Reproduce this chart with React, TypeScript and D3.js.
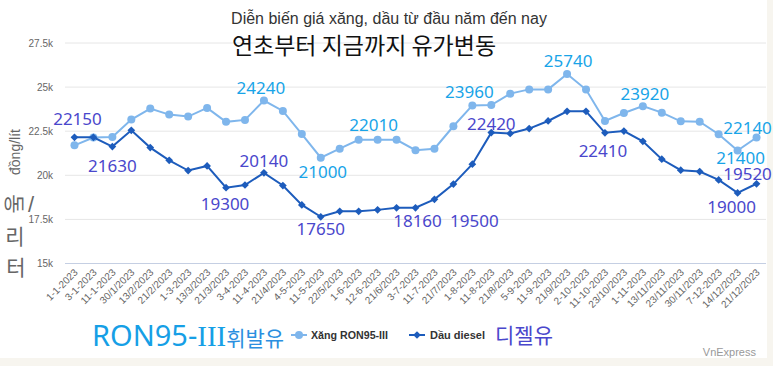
import React from 'react';
import * as d3 from 'd3';

const W = 773;
const H = 366;

// Ngày điều chỉnh giá
const dates = [
  '1-1-2023', '3-1-2023', '11-1-2023', '30/1/2023', '13/2/2023', '21/2/2023', '1-3-2023',
  '13/3/2023', '21/3/2023', '3-4-2023', '11-4-2023', '21/4/2023', '4-5-2023', '11-5-2023',
  '22/5/2023', '1-6-2023', '12-6-2023', '21/6/2023', '3-7-2023', '11-7-2023', '21/7/2023',
  '1-8-2023', '11-8-2023', '21/8/2023', '5-9-2023', '11-9-2023', '21/9/2023', '2-10-2023',
  '11-10-2023', '23/10/2023', '1-11-2023', '13/11/2023', '23/11/2023', '30/11/2023',
  '7-12-2023', '14/12/2023', '21/12/2023',
];

// Xăng RON95-III (đồng/lít)
const petrol = [
  21700, 22140, 22170, 23160, 23780, 23440, 23330, 23820, 23030, 23140, 24240, 23650, 22340,
  21000, 21510, 22010, 22010, 22010, 21420, 21510, 22780, 23960, 23980, 24630, 24870, 24870,
  25740, 24860, 23080, 23530, 23920, 23550, 23060, 23040, 22330, 21400, 22140,
];

// Dầu diesel (đồng/lít)
const diesel = [
  22150, 22150, 21630, 22550, 21570, 20850, 20270, 20530, 19300, 19450, 20140, 19420, 18320,
  17650, 17960, 17960, 18040, 18160, 18160, 18640, 19500, 20630, 22420, 22370, 22650, 23080,
  23630, 23630, 22410, 22510, 21930, 20910, 20290, 20210, 19740, 19000, 19520,
];

const yTicks = [15000, 17500, 20000, 22500, 25000, 27500];

// which points carry a value label
const petrolLabelIdx = [10, 13, 16, 21, 26, 30, 35, 36];
const dieselLabelIdx = [0, 2, 8, 10, 13, 18, 20, 22, 28, 35, 36];

// label placement relative to the point: [dx, dy to baseline]
const petrolOffset: Record<number, [number, number]> = {
  10: [-3, -7], 13: [2, 20], 16: [-4, -9], 21: [-3, -7], 26: [1, -7], 30: [2, -6], 35: [3, 13], 36: [-9, -4],
};
const dieselOffset: Record<number, [number, number]> = {
  0: [3, -12], 2: [0, 25], 8: [-1, 22], 10: [0, -6], 13: [0, 18], 18: [2, 19], 20: [21, 43],
  22: [0, -3], 28: [-2, 24], 35: [-6, 20], 36: [-9, -4],
};

const PETROL = '#7fb6ec';
const DIESEL = '#1d5cbc';
const PETROL_LBL = '#18a4e8';
const DIESEL_LBL = '#4a47cc';
const SANS = '"Liberation Sans", Arial, sans-serif';
const LBL_FONT = '"Noto Sans", "DejaVu Sans", sans-serif';
const KR = '"Noto Sans CJK KR", sans-serif';

const fmtK = (v: number) => `${v / 1000}k`;

export default function App() {
  const x = d3.scalePoint<string>().domain(dates).range([65, 766]).padding(0.5);
  const y = d3.scaleLinear().domain([15000, 27500]).range([263.5, 43]);
  const xi = (i: number) => x(dates[i]) as number;

  const line = d3.line<number>().x((_, i) => xi(i)).y(d => y(d));
  const square = d3.symbol(d3.symbolSquare, 30)() as string;

  return (
    <svg width={W} height={H} style={{ position: 'absolute', left: 0, top: 0 }}>
      <rect width={W} height={H} fill="#f7f5ef" />
      <rect x={0} y={0} width={767} height={358} fill="#ffffff" />

      {/* titles */}
      <text x={389} y={24} textAnchor="middle" fontFamily={SANS} fontSize={16} fill="#333">
        Diễn biến giá xăng, dầu từ đầu năm đến nay
      </text>

      {/* grid */}
      {yTicks.map(t => (
        <g key={t}>
          <line x1={65} x2={766} y1={y(t)} y2={y(t)} stroke={t === 15000 ? '#c5cfe3' : '#e6e6e6'} />
          <text x={53} y={y(t) + 3.5} textAnchor="end" fontFamily={SANS} fontSize={10} fill="#666">
            {fmtK(t)}
          </text>
        </g>
      ))}

      <text x={364} y={54} textAnchor="middle" fontFamily={KR} fontSize={23} fill="#111">
        연초부터 지금까지 유가변동
      </text>

      {/* y axis title */}
      <text transform="translate(20,152) rotate(-90)" textAnchor="middle" fontFamily={SANS} fontSize={14} fill="#666">
        đồng/lít
      </text>
      <text transform="translate(16,204) rotate(90)" textAnchor="middle" dominantBaseline="central" fontFamily={KR} fontSize={21} fill="#666">
        동
      </text>
      <text x={31} y={212} textAnchor="middle" fontFamily={SANS} fontSize={22} fill="#666">/</text>
      <text x={15} y={244} textAnchor="middle" fontFamily={KR} fontSize={21} fill="#666">리</text>
      <text x={16} y={275} textAnchor="middle" fontFamily={KR} fontSize={21} fill="#666">터</text>

      {/* x labels */}
      {dates.map((d, i) => (
        <text key={d} transform={`translate(${xi(i) + 4},273) rotate(-45)`} textAnchor="end"
          fontFamily={SANS} fontSize={10} fill="#666">
          {d}
        </text>
      ))}

      {/* series */}
      <path d={line(petrol) as string} fill="none" stroke={PETROL} strokeWidth={2} />
      {petrol.map((v, i) => (
        <circle key={i} cx={xi(i)} cy={y(v)} r={4} fill={PETROL} />
      ))}
      <path d={line(diesel) as string} fill="none" stroke={DIESEL} strokeWidth={2} />
      {diesel.map((v, i) => (
        <path key={i} d={square} transform={`translate(${xi(i)},${y(v)}) rotate(45)`} fill={DIESEL} />
      ))}

      {/* value labels */}
      {petrolLabelIdx.map(i => (
        <text key={'p' + i} x={xi(i) + petrolOffset[i][0]} y={y(petrol[i]) + petrolOffset[i][1]}
          textAnchor="middle" fontFamily={LBL_FONT} fontSize={17} fill={PETROL_LBL}>
          {petrol[i]}
        </text>
      ))}
      {dieselLabelIdx.map(i => (
        <text key={'d' + i} x={xi(i) + dieselOffset[i][0]} y={y(diesel[i]) + dieselOffset[i][1]}
          textAnchor="middle" fontFamily={LBL_FONT} fontSize={17} fill={DIESEL_LBL}>
          {diesel[i]}
        </text>
      ))}

      {/* legend */}
      <text x={92} y={346} fontSize={29} fill="#169fe6">
        <tspan fontFamily={LBL_FONT}>RON95-</tspan>
        <tspan fontFamily={'"Liberation Serif", serif'}>III</tspan>
        <tspan fontFamily={KR} fontSize={21} fill="#2b8fe0">휘발유</tspan>
      </text>
      <line x1={291} x2={307} y1={335} y2={335} stroke={PETROL} strokeWidth={2} />
      <circle cx={299} cy={335} r={4} fill={PETROL} />
      <text x={311} y={339} fontFamily={SANS} fontSize={11} fontWeight="bold" fill="#333"
        textLength={77} lengthAdjust="spacingAndGlyphs">Xăng RON95-III</text>

      <line x1={409} x2={425} y1={335} y2={335} stroke={DIESEL} strokeWidth={2} />
      <path d={square} transform="translate(417,335) rotate(45)" fill={DIESEL} />
      <text x={430} y={339} fontFamily={SANS} fontSize={11} fontWeight="bold" fill="#333">Dầu diesel</text>
      <text x={495} y={343} fontFamily={KR} fontSize={21} fill={DIESEL_LBL}>디젤유</text>

      <text x={756} y={356} textAnchor="end" fontFamily={SANS} fontSize={11} fill="#999">VnExpress</text>
    </svg>
  );
}
